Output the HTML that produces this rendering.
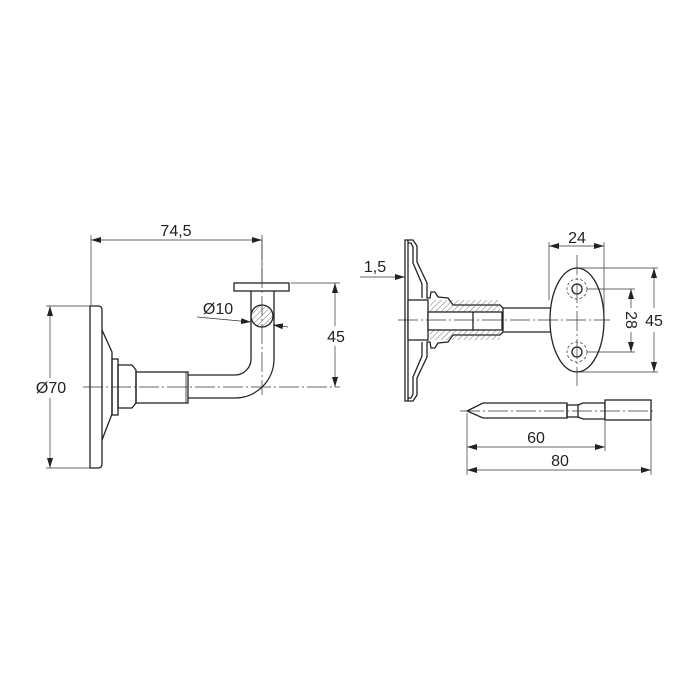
<!DOCTYPE html>
<html><head><meta charset="utf-8"><style>
html,body{margin:0;padding:0;background:#fff;}
svg{display:block}
text{font-family:"Liberation Sans",sans-serif;font-size:16px;fill:#222}
</style></head><body>
<svg width="700" height="700" viewBox="0 0 700 700" xmlns="http://www.w3.org/2000/svg">
<defs>
<pattern id="h" width="4" height="4" patternUnits="userSpaceOnUse" patternTransform="rotate(45)">
<line x1="0" y1="0" x2="0" y2="4" stroke="#555" stroke-width="0.8"/></pattern>
<marker id="a" viewBox="0 0 10 6" refX="10" refY="3" markerWidth="10" markerHeight="6" orient="auto-start-reverse" markerUnits="userSpaceOnUse">
<path d="M0,0 L10,3 L0,6 z" fill="#222"/></marker>
</defs>
<g fill="none" stroke="#222" stroke-width="1.3">
<!-- LEFT VIEW -->
<path d="M90,306 H98 Q102,306 102,310 V464 Q102,468 98,468 H90 Z" fill="#fff"/>
<path d="M102,330 L112,352 V414 L102,440"/>
<rect x="112" y="359" width="6" height="56"/>
<path d="M118,365 H132 L136,370 V403 L132,408 H118 Z"/>
<rect x="136" y="372" width="52" height="31"/>
<line x1="186" y1="372" x2="186" y2="403" stroke-width="0.8"/>
<path d="M188,375 H235 A16,16 0 0 0 251,359 V291"/>
<path d="M188,398 H235 A39,39 0 0 0 274,359 V291"/>
<rect x="234" y="283" width="55" height="8" fill="#fff"/>
<circle cx="262" cy="316" r="11" fill="url(#h)"/>
</g>
<g fill="none" stroke="#333" stroke-width="0.7">
<line x1="83" y1="387" x2="340" y2="387" stroke-dasharray="20,3,2,3"/>
<line x1="262" y1="240" x2="262" y2="395" stroke-dasharray="20,3,2,3"/>
<line x1="91" y1="235" x2="91" y2="305"/>
<line x1="262" y1="235" x2="262" y2="282"/>
<line x1="91" y1="240" x2="262" y2="240" marker-start="url(#a)" marker-end="url(#a)"/>
<line x1="291" y1="283" x2="340" y2="283"/>
<line x1="335" y1="283" x2="335" y2="387" marker-start="url(#a)" marker-end="url(#a)"/>
<line x1="46" y1="306" x2="90" y2="306"/>
<line x1="46" y1="468" x2="90" y2="468"/>
<line x1="50" y1="306" x2="50" y2="468" marker-start="url(#a)" marker-end="url(#a)"/>
<line x1="197" y1="317" x2="251" y2="322" marker-end="url(#a)"/>
<line x1="288" y1="327" x2="273" y2="325" marker-end="url(#a)"/>
</g>
<rect x="325" y="326" width="22" height="20" fill="#fff"/>
<rect x="32" y="378" width="38" height="20" fill="#fff"/>
<text x="176" y="236" text-anchor="middle">74,5</text>
<text x="336" y="342" text-anchor="middle">45</text>
<text x="51" y="393" text-anchor="middle">Ø70</text>
<text x="218" y="314" text-anchor="middle">Ø10</text>

<!-- RIGHT VIEW -->
<g fill="none" stroke="#222" stroke-width="1.3">
<path d="M405,240 H413 L417,246 V262 L427,283 V298 H430 L431,292 H435 L438,297 L448,298 L453,305 H500 L503,308 V332 L500,335 H453 L448,342 L438,343 L435,348 H431 L430,342 H427 V357 L417,378 V395 L413,401 H405 Z" fill="#fff"/>
<line x1="408" y1="240" x2="408" y2="401"/>
<path d="M408,243 H411 L413,247 V263 L422,284 V298"/>
<path d="M408,398 H411 L413,394 V377 L422,356 V342"/>
<path d="M430,300 H500 V340 H430 Z" fill="url(#h)" stroke="none"/>
<rect x="408" y="300" width="20" height="40" fill="#fff"/>
<rect x="428" y="312" width="74" height="18" fill="#fff"/>
<line x1="473" y1="312" x2="473" y2="330"/>
<line x1="503" y1="308" x2="553" y2="308"/>
<line x1="503" y1="332" x2="553" y2="332"/>
<ellipse cx="577" cy="320" rx="27" ry="52" fill="#fff"/>
<circle cx="577" cy="289" r="5"/>
<circle cx="577" cy="352" r="5"/>
<!-- pin -->
<path d="M467,411 L483,403 H567 V418 H483 Z"/>
<rect x="567" y="405" width="11" height="12"/>
<path d="M578,405 L583,403 H605 V419 H583 L578,417"/>
<rect x="605" y="400" width="46" height="20" fill="#fff"/>
</g>
<g fill="none" stroke="#333" stroke-width="0.7">
<circle cx="577" cy="289" r="10" stroke-dasharray="3,2"/>
<circle cx="577" cy="352" r="10" stroke-dasharray="3,2"/>
<line x1="398" y1="320" x2="610" y2="320" stroke-dasharray="20,3,2,3"/>
<line x1="577" y1="255" x2="577" y2="386" stroke-dasharray="20,3,2,3"/>
<line x1="460" y1="411" x2="656" y2="411" stroke-dasharray="20,3,2,3"/>
<line x1="549" y1="242" x2="549" y2="300"/>
<line x1="604" y1="242" x2="604" y2="320"/>
<line x1="549" y1="246" x2="604" y2="246" marker-start="url(#a)" marker-end="url(#a)"/>
<line x1="577" y1="268" x2="658" y2="268"/>
<line x1="577" y1="372" x2="658" y2="372"/>
<line x1="654" y1="268" x2="654" y2="372" marker-start="url(#a)" marker-end="url(#a)"/>
<line x1="587" y1="289" x2="635" y2="289"/>
<line x1="587" y1="352" x2="635" y2="352"/>
<line x1="631" y1="289" x2="631" y2="352" marker-start="url(#a)" marker-end="url(#a)"/>
<line x1="360" y1="277" x2="405" y2="277" marker-end="url(#a)"/>
<line x1="408" y1="272" x2="408" y2="282"/>
<line x1="467" y1="413" x2="467" y2="475"/>
<line x1="605" y1="421" x2="605" y2="451"/>
<line x1="651" y1="421" x2="651" y2="475"/>
<line x1="467" y1="447" x2="605" y2="447" marker-start="url(#a)" marker-end="url(#a)"/>
<line x1="467" y1="470" x2="651" y2="470" marker-start="url(#a)" marker-end="url(#a)"/>
</g>
<rect x="643" y="308" width="22" height="24" fill="#fff"/>
<rect x="621" y="308" width="20" height="24" fill="#fff"/>
<text x="577" y="243" text-anchor="middle">24</text>
<text x="654" y="326" text-anchor="middle">45</text>
<text x="631" y="320" text-anchor="middle" transform="rotate(90 631 320)" dy="5">28</text>
<text x="375" y="272" text-anchor="middle">1,5</text>
<text x="536" y="443" text-anchor="middle">60</text>
<text x="560" y="466" text-anchor="middle">80</text>
</svg>
</body></html>
